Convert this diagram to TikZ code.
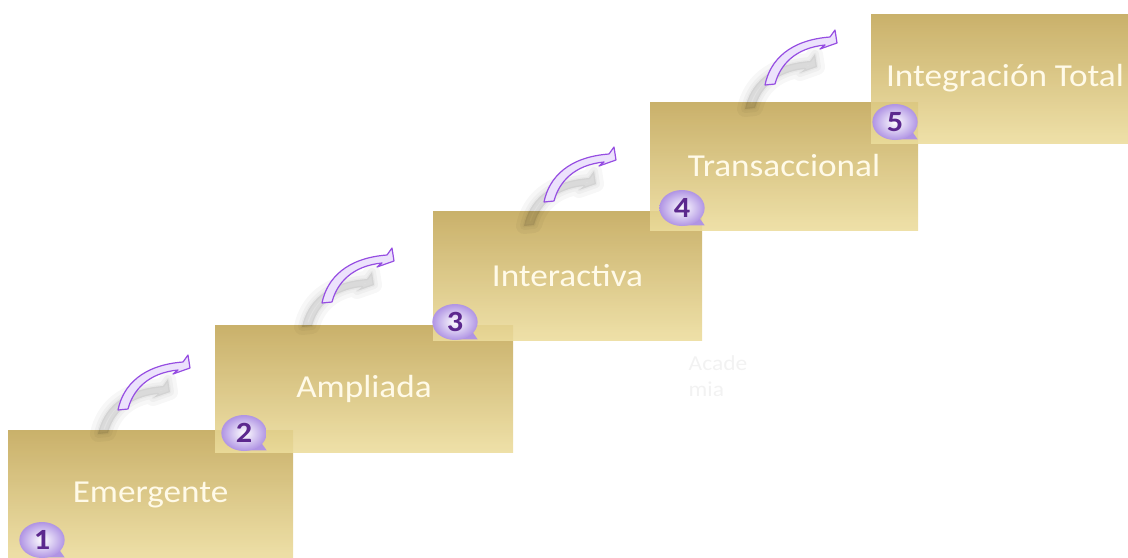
\documentclass[tikz,border=0pt]{standalone}
\usepackage{fontspec}
\setmainfont{Carlito}[FakeStretch=1.1]
\usetikzlibrary{shapes.geometric}

\definecolor{goldtop}{RGB}{194,166,86}
\definecolor{goldbot}{RGB}{236,220,156}
\definecolor{labeltext}{RGB}{255,250,232}
\definecolor{badgeedge}{RGB}{176,148,228}
\definecolor{badgenum}{RGB}{92,40,142}
\definecolor{arrowline}{RGB}{150,78,226}
\definecolor{arrowfill}{RGB}{236,226,252}

\tikzset{
  stepbox/.style={rectangle, top color=goldtop, middle color=goldtop!85!goldbot, bottom color=goldbot,
    fill opacity=0.88, text opacity=1, text=labeltext, inner sep=0pt,
    font=\fontsize{24}{28}\selectfont},
  badge/.style={ellipse, inner color=white, outer color=badgeedge, minimum width=34pt,
    minimum height=27pt, inner sep=0pt, text=badgenum, font=\fontsize{22}{22}\selectfont\bfseries},
  pics/curvearrow/.style={code={
    % soft shadow below the arrow
    \foreach \w in {12,6,2}
      \draw[black, opacity=0.03, fill, line width=\w pt, line join=round, shift={(-20,24)}]
        (0,0) .. controls (5,-25) and (25,-45) .. (65,-48) -- (70,-55) -- (72,-42) -- (55,-36) -- (60,-40)
        .. controls (30,-37) and (15,-20) .. (10,-1) -- cycle;
    \draw[arrowline, fill=arrowfill, line width=0.9pt, line join=round]
      (0,0) .. controls (5,-25) and (25,-45) .. (65,-48) -- (70,-55) -- (72,-42) -- (55,-36) -- (60,-40)
      .. controls (30,-37) and (15,-20) .. (10,-1) -- cycle;
  }}
}

\begin{document}
\begin{tikzpicture}[x=0.75pt, y=-0.75pt]
\useasboundingbox (0,0) rectangle (1128,557);
\clip (0,0) rectangle (1128,557);

% steps
\node[stepbox, minimum width=213.75pt, minimum height=97.5pt] (emergente) at (150.5,495) {Emergente};
\node[stepbox, minimum width=223.5pt, minimum height=95.25pt] (ampliada) at (364,388.5) {Ampliada};
\node[stepbox, minimum width=201.75pt, minimum height=96.75pt] (interactiva) at (567.5,275.5) {Interactiva};
\node[stepbox, minimum width=201pt, minimum height=96pt] (transaccional) at (784,166) {Transaccional};
\node[stepbox, minimum width=201pt, minimum height=96.75pt] (integracion) at (1005,78.5) {Integración Total};

\node[anchor=west, align=left, text=black!5, font=\fontsize{16}{19}\selectfont] (academia) at (684,376) {Acade\\mia};

% numbers
\foreach \n/\x/\y in {1/42/540, 2/244/433, 3/455/322, 4/682/208, 5/895/122} {
  \fill[badgeedge] (\x,\y) ++(0pt,-13pt) -- ++(17pt,0pt) -- ++(-5pt,7pt) -- cycle;
  \node[badge] (b\n) at (\x,\y) {\n};
}

% arrows
\coordinate (a1) at (118,410);
\coordinate (a2) at (322,303);
\coordinate (a3) at (544,202);
\coordinate (a4) at (765,85);
\foreach \a in {a1,a2,a3,a4}
  \pic at (\a) {curvearrow};
\end{tikzpicture}
\end{document}
